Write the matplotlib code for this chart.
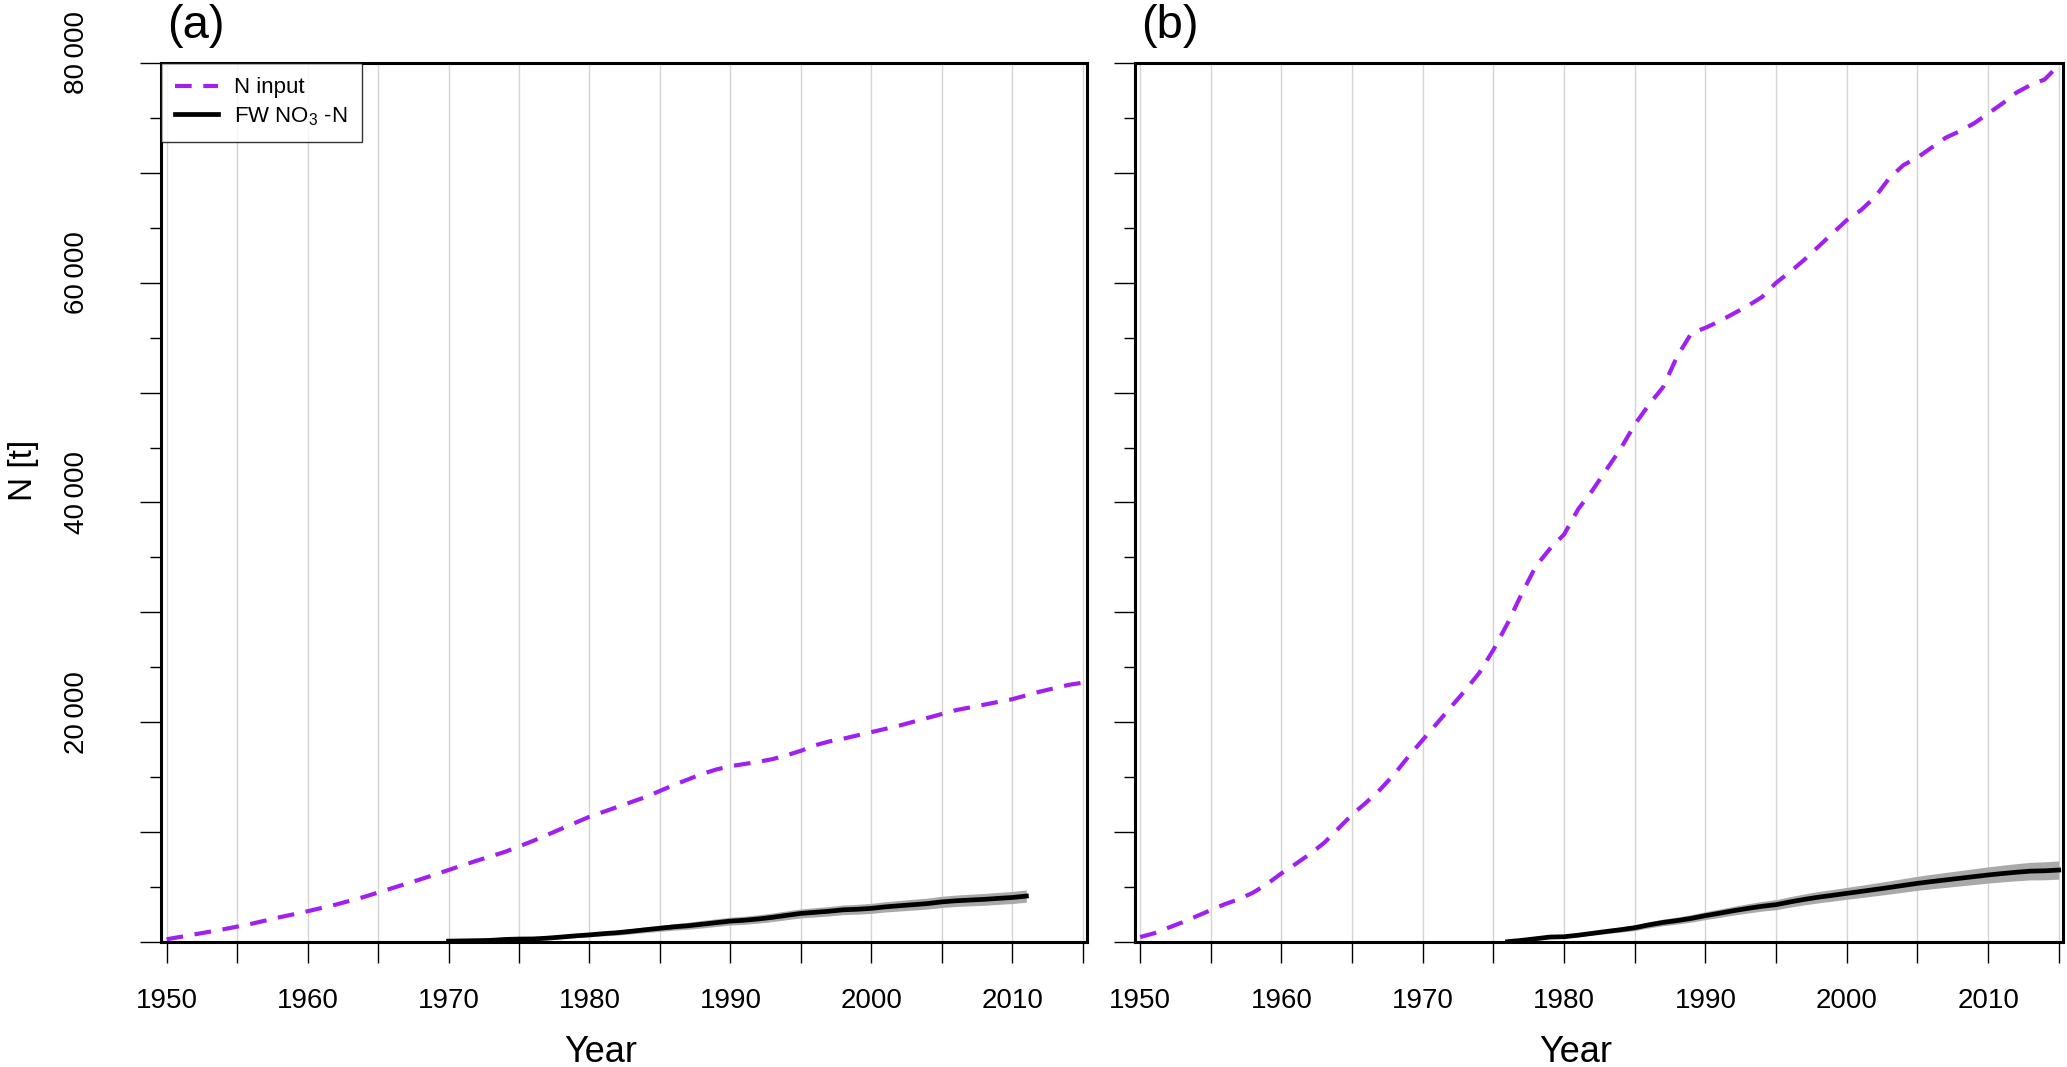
import numpy as np
import matplotlib
matplotlib.use("Agg")
import matplotlib.pyplot as plt
import matplotlib.transforms as mtransforms

plt.rcParams["font.family"] = ["Liberation Sans", "DejaVu Sans"]
plt.rcParams["mathtext.fontset"] = "custom"
plt.rcParams["mathtext.rm"] = "Liberation Sans"

# ---- data ----
years_a_input = list(range(1950, 2016))
n_input_a = [250, 470, 700, 920, 1150, 1400, 1650, 1950, 2250, 2520,
             2800, 3100, 3400, 3750, 4100, 4500, 4900, 5300, 5700, 6120,
             6550, 6980, 7400, 7800, 8200, 8700, 9200, 9750, 10300, 10850,
             11400, 11850, 12300, 12750, 13200, 13750, 14300, 14800, 15300, 15700,
             16000, 16200, 16400, 16650, 17000, 17400, 17900, 18250, 18500, 18800,
             19100, 19400, 19700, 20050, 20400, 20750, 21100, 21350, 21600, 21850,
             22100, 22450, 22800, 23100, 23400, 23600]

years_a_fw = list(range(1970, 2012))
fw_a = [80, 100, 120, 150, 230, 270, 280, 350, 450, 560,
        650, 760, 850, 980, 1120, 1250, 1380, 1480, 1620, 1760,
        1900, 1980, 2100, 2250, 2430, 2600, 2700, 2800, 2930, 2980,
        3060, 3200, 3300, 3400, 3500, 3650, 3750, 3820, 3880, 3970,
        4050, 4180]
fw_a_spread = [0, 0, 20, 40, 60, 80, 100, 120, 140, 160,
               180, 200, 220, 240, 260, 280, 300, 320, 340, 350,
               360, 370, 380, 390, 400, 410, 420, 430, 440, 450,
               460, 470, 480, 490, 500, 510, 520, 530, 540, 545,
               550, 560]

years_b_input = list(range(1950, 2016))
n_input_b = [450, 800, 1300, 1800, 2350, 2900, 3450, 3900, 4500, 5300,
             6250, 7100, 8000, 9000, 10300, 11600, 12700, 13900, 15300, 16900,
             18400, 19900, 21400, 22900, 24500, 26600, 29000, 31700, 34200, 35800,
             37100, 39400, 41100, 43000, 44900, 47100, 48900, 50500, 53300, 55400,
             55900, 56500, 57200, 57900, 58700, 60000, 61000, 62100, 63300, 64500,
             65700, 66600, 67800, 69500, 70700, 71400, 72300, 73200, 73800, 74500,
             75400, 76300, 77300, 78000, 78500, 79800]

years_b_fw = list(range(1976, 2016))
fw_b = [30, 150, 300, 450, 480, 620, 790, 960, 1120, 1300,
        1560, 1780, 1950, 2150, 2400, 2620, 2850, 3060, 3250, 3400,
        3650, 3880, 4080, 4250, 4430, 4600, 4780, 4960, 5150, 5340,
        5500, 5650, 5800, 5950, 6100, 6230, 6350, 6450, 6480, 6550]
fw_b_spread = [0, 30, 60, 90, 110, 140, 170, 200, 230, 260,
               280, 300, 320, 340, 360, 380, 400, 420, 440, 460,
               480, 500, 520, 530, 540, 560, 580, 600, 620, 640,
               660, 680, 700, 720, 740, 760, 780, 800, 820, 830]

x_ticks = list(range(1950, 2016, 5))
x_labels = [str(y) if y % 10 == 0 else "" for y in x_ticks]
y_major = list(range(0, 80001, 10000))
y_minor = list(range(5000, 80000, 10000))
y_labels = ["20\u2009000" if v == 20000 else "40\u2009000" if v == 40000 else
            "60\u2009000" if v == 60000 else "80\u2009000" if v == 80000 else ""
            for v in y_major]

purple = "#A020F0"
band = "#A9A9A9"

W, H = 2067, 1067
fig = plt.figure(figsize=(W / 100, H / 100), dpi=100)
ax_a = fig.add_axes([161 / W, 125 / H, 926 / W, 879 / H])
ax_b = fig.add_axes([1134.5 / W, 125 / H, 928.5 / W, 879 / H])

panels = [
    (ax_a, years_a_input, n_input_a, years_a_fw, fw_a, fw_a_spread, "(a)"),
    (ax_b, years_b_input, n_input_b, years_b_fw, fw_b, fw_b_spread, "(b)"),
]

for ax, yi, ni, yf, fw, sp, tag in panels:
    fw = np.array(fw)
    sp = np.array(sp)
    for x in x_ticks:
        ax.axvline(x, color="#d4d4d4", lw=1.0, zorder=0)
    ax.fill_between(yf, fw - sp, fw + sp, color=band, lw=0, zorder=1)
    ax.plot(yi, ni, color=purple, lw=3.0, linestyle=(0, (4.0, 2.8)),
            zorder=3, label="N input")
    ax.plot(yf, fw, color="black", lw=3.4, zorder=2, label="FW NO$_3$ -N")

    ax.set_xlim(1949.6, 2015.3)
    ax.set_ylim(0, 80000)
    ax.set_xticks(x_ticks)
    ax.set_xticklabels(x_labels, fontsize=20)
    ax.set_yticks(y_major)
    ax.set_yticks(y_minor, minor=True)
    ax.tick_params(axis="x", length=15, width=1.0, pad=18, direction="out")
    ax.tick_params(axis="y", which="major", length=15, width=1.0, pad=36)
    ax.tick_params(axis="y", which="minor", length=8, width=1.0)
    for s in ax.spines.values():
        s.set_linewidth(2.2)

    if ax is ax_a:
        ax.set_yticklabels(y_labels, fontsize=20, rotation=90, va="center")
        shift = mtransforms.ScaledTranslation(0, 10 / 100, fig.dpi_scale_trans)
        for lbl in ax.get_yticklabels():
            lbl.set_transform(lbl.get_transform() + shift)
        leg = ax.legend(loc="upper left", fontsize=16, frameon=True,
                        fancybox=False, borderaxespad=0, handlelength=1.9,
                        handletextpad=0.75, borderpad=0.65, labelspacing=0.3)
        leg.get_frame().set_edgecolor("black")
        leg.get_frame().set_linewidth(1.0)
        ax.text(-0.148, 0.536, "N [t]", transform=ax.transAxes, rotation=90,
                ha="center", va="center", fontsize=24)
    else:
        ax.set_yticklabels([""] * len(y_major))

    ax.text(0.475, -0.1365, "Year", transform=ax.transAxes, ha="center",
            va="baseline", fontsize=26)
    ax.text(0.007, 1.0284, tag, transform=ax.transAxes, ha="left",
            va="baseline", fontsize=34)

fig.savefig("out.png", dpi=100)
